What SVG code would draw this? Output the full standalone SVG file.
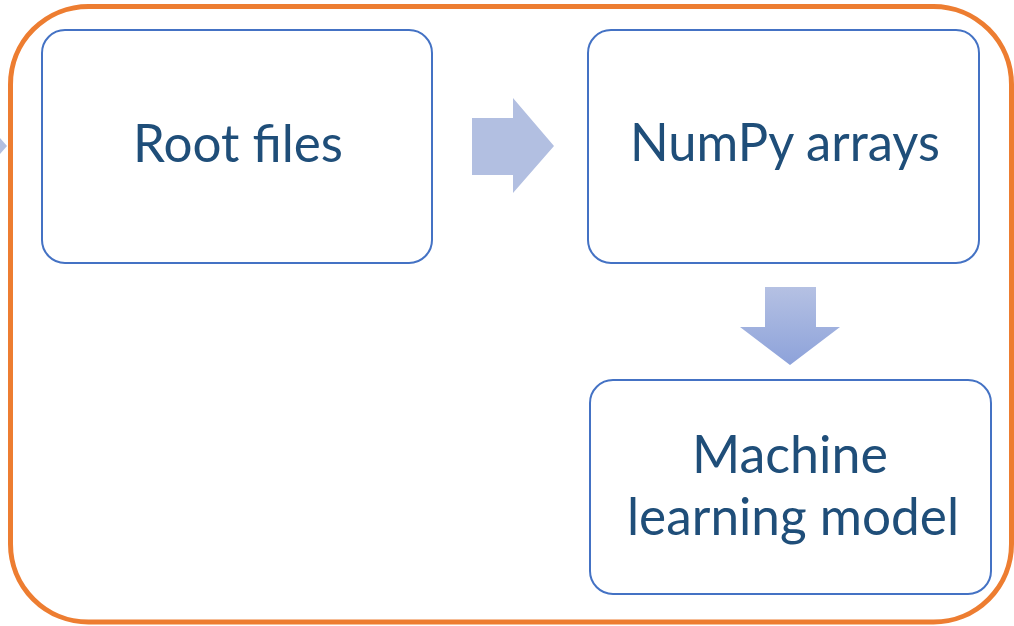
<svg xmlns="http://www.w3.org/2000/svg" width="1014" height="626" viewBox="0 0 1014 626">
  <style>
    .box { fill: #FFFFFF; stroke: #4472C4; stroke-width: 2; }
    .lbl { font-family: Lato, "Liberation Sans", sans-serif; font-size: 52px; fill: #1F4E79; text-anchor: middle; }
    .arrow { fill: #B2BFE1; }
  </style>
  <defs>
    <linearGradient id="downGrad" x1="0" y1="0" x2="0" y2="1">
      <stop offset="0" stop-color="#B5C1E3"/>
      <stop offset="1" stop-color="#8DA2DA"/>
    </linearGradient>
  </defs>
  <rect width="1014" height="626" fill="#FFFFFF"/>
  <g id="frame">
    <rect x="10.5" y="6.5" width="1001" height="615.5" rx="78" ry="78" fill="none" stroke="#ED7D31" stroke-width="5"/>
  </g>
  <g id="connectors">
    <polygon class="arrow" points="0,138 7,146 0,154"/>
    <polygon class="arrow" points="472,118 513,118 513,98 554,146 513,193 513,175 472,175"/>
    <polygon fill="url(#downGrad)" points="765,287 816,287 816,327 840,327 790,365 740,327 765,327"/>
  </g>
  <g id="root-files">
    <rect class="box" x="42" y="30" width="390" height="233" rx="23" ry="23"/>
    <text class="lbl" x="238" y="162" textLength="210" lengthAdjust="spacingAndGlyphs">Root files</text>
  </g>
  <g id="numpy-arrays">
    <rect class="box" x="588" y="30" width="391" height="233" rx="23" ry="23"/>
    <text class="lbl" x="785" y="161" textLength="310" lengthAdjust="spacingAndGlyphs">NumPy arrays</text>
  </g>
  <g id="ml-model">
    <rect class="box" x="590" y="380" width="401" height="214" rx="23" ry="23"/>
    <text class="lbl" x="790" y="473" textLength="196" lengthAdjust="spacingAndGlyphs">Machine</text>
    <text class="lbl" x="793" y="535" textLength="332" lengthAdjust="spacingAndGlyphs">learning model</text>
  </g>
</svg>
